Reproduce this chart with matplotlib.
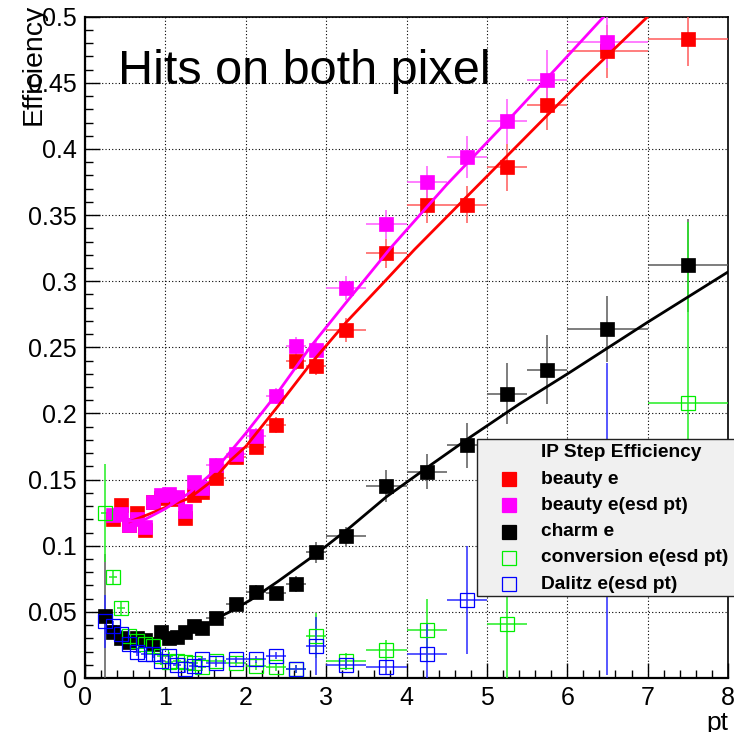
#!/usr/bin/env python3
"""IP step efficiency vs pt (hits on both pixel layers), ROOT-style canvas."""

import matplotlib

matplotlib.use("Agg")
import matplotlib.pyplot as plt
import numpy as np
from matplotlib.lines import Line2D
from matplotlib.patches import Rectangle
from matplotlib.ticker import FuncFormatter, MultipleLocator

plt.rcParams["font.family"] = ["Liberation Sans", "DejaVu Sans"]

W, H = 734, 732

# bin centres and half widths (pt)
pt_bins = [0.25, 0.35, 0.45, 0.55, 0.65, 0.75, 0.85, 0.95, 1.05, 1.15, 1.25, 1.35, 1.45,
           1.625, 1.875, 2.125, 2.375, 2.625, 2.875,
           3.25, 3.75, 4.25, 4.75, 5.25, 5.75, 6.5, 7.5]
pt_halfw = [0.05, 0.05, 0.05, 0.05, 0.05, 0.05, 0.05, 0.05, 0.05, 0.05, 0.05, 0.05, 0.05,
            0.125, 0.125, 0.125, 0.125, 0.125, 0.125,
            0.25, 0.25, 0.25, 0.25, 0.25, 0.25, 0.5, 0.5]

nan = float("nan")

beauty_eff = [nan, 0.120, 0.131, 0.116, 0.125, 0.112, 0.133, 0.136, 0.137, 0.135, 0.121, 0.138, 0.141,
              0.151, 0.167, 0.175, 0.191, 0.240, 0.236,
              0.263, 0.321, 0.358, 0.358, 0.386, 0.433, 0.474, 0.483]
beauty_err = [nan, 0.004, 0.004, 0.004, 0.004, 0.004, 0.004, 0.004, 0.004, 0.004, 0.004, 0.004, 0.004,
              0.005, 0.005, 0.006, 0.006, 0.007, 0.007,
              0.009, 0.011, 0.014, 0.014, 0.018, 0.019, 0.020, 0.020]

beauty_esd_eff = [nan, 0.123, 0.124, 0.116, 0.120, 0.114, 0.133, 0.138, 0.139, 0.137, 0.126, 0.148, 0.144,
                  0.161, 0.169, 0.183, 0.213, 0.251, 0.248,
                  0.295, 0.343, 0.375, 0.394, 0.421, 0.452, 0.481, nan]
beauty_esd_err = [nan, 0.004, 0.004, 0.004, 0.004, 0.004, 0.004, 0.004, 0.004, 0.004, 0.004, 0.004, 0.004,
                  0.005, 0.005, 0.006, 0.006, 0.007, 0.007,
                  0.009, 0.011, 0.012, 0.016, 0.017, 0.023, 0.020, nan]

charm_eff = [0.047, 0.035, 0.030, 0.027, 0.030, 0.029, 0.026, 0.035, 0.030, 0.031, 0.035, 0.039, 0.038,
             0.045, 0.056, 0.065, 0.064, 0.071, 0.095,
             0.107, 0.145, 0.156, 0.176, 0.215, 0.233, 0.264, 0.312]
charm_err = [0.047, 0.004, 0.003, 0.003, 0.003, 0.003, 0.003, 0.003, 0.003, 0.003, 0.003, 0.003, 0.003,
             0.004, 0.004, 0.005, 0.005, 0.006, 0.008,
             0.007, 0.012, 0.013, 0.017, 0.023, 0.026, 0.025, 0.035]

conv_eff = [0.125, 0.076, 0.053, 0.032, 0.028, 0.026, 0.024, 0.017, 0.012, 0.013, 0.012, 0.011, 0.008,
            0.013, 0.011, 0.009, 0.008, 0.007, 0.032,
            0.013, 0.021, 0.036, nan, 0.041, nan, nan, 0.208]
conv_err = [0.037, 0.006, 0.005, 0.004, 0.003, 0.003, 0.003, 0.003, 0.003, 0.003, 0.003, 0.003, 0.003,
            0.003, 0.003, 0.003, 0.003, 0.003, 0.017,
            0.006, 0.008, 0.024, nan, 0.045, nan, nan, 0.137]

dalitz_eff = [0.043, 0.039, 0.033, 0.026, 0.020, 0.018, 0.018, 0.013, 0.017, 0.010, 0.007, 0.009, 0.014,
              0.011, 0.014, 0.014, 0.017, 0.007, 0.024,
              0.010, 0.008, 0.018, 0.059, nan, nan, 0.120, nan]
dalitz_err = [0.020, 0.004, 0.003, 0.003, 0.003, 0.003, 0.003, 0.003, 0.003, 0.003, 0.003, 0.003, 0.003,
              0.003, 0.003, 0.003, 0.003, 0.003, 0.022,
              0.004, 0.005, 0.023, 0.041, nan, nan, 0.118, nan]

# fitted curves
beauty_fit_pt = [0.55, 0.8, 1.0, 1.3, 1.6, 1.8, 2.0, 2.4, 2.8, 3.25, 3.7, 4.1, 4.8, 5.5, 6.2, 7.0]
beauty_fit_eff = [0.118, 0.124, 0.129, 0.136, 0.150, 0.164, 0.175, 0.2055, 0.237, 0.269, 0.298, 0.324,
                  0.367, 0.410, 0.453, 0.500]
beauty_esd_fit_pt = [0.5, 0.75, 1.0, 1.3, 1.6, 2.0, 2.4, 2.8, 3.25, 3.8, 4.5, 5.3, 6.0, 6.5]
beauty_esd_fit_eff = [0.118, 0.120, 0.128, 0.140, 0.156, 0.185, 0.216, 0.250, 0.284, 0.325, 0.373, 0.424,
                      0.470, 0.503]
charm_fit_pt = [1.6, 1.8, 2.06, 2.4, 2.88, 3.3, 3.75, 4.3, 4.8, 5.4, 6.03, 7.0, 8.0]
charm_fit_eff = [0.044, 0.050, 0.059, 0.073, 0.094, 0.114, 0.137, 0.161, 0.1824, 0.207, 0.231, 0.269, 0.307]

SERIES = [
    # label, eff, err, marker colour, error colour, filled
    ("beauty e", beauty_eff, beauty_err, "#ff0000", "#ff5a5a", True),
    ("beauty e(esd pt)", beauty_esd_eff, beauty_esd_err, "#ff00ff", "#ff5aff", True),
    ("charm e", charm_eff, charm_err, "#000000", "#5a5a5a", True),
    ("conversion e(esd pt)", conv_eff, conv_err, "#00ee00", "#22ee22", False),
    ("Dalitz e(esd pt)", dalitz_eff, dalitz_err, "#0000ff", "#2a2aff", False),
]
FITS = [
    (beauty_fit_pt, beauty_fit_eff, "#ff0000"),
    (beauty_esd_fit_pt, beauty_esd_fit_eff, "#ff00ff"),
    (charm_fit_pt, charm_fit_eff, "#000000"),
]


def fx(px):
    return px / W


def fy(py):
    return 1 - py / H


fig = plt.figure(figsize=(W / 100, H / 100), dpi=100)
ax = fig.add_axes([fx(85), fy(678), (728 - 85) / W, (678 - 16.7) / H])
ax.set_xlim(0, 8)
ax.set_ylim(0, 0.5)

x = np.array(pt_bins)
xe = np.array(pt_halfw)
for k, (label, eff, err, col, ecol, filled) in enumerate(SERIES):
    e = np.array(eff)
    s = np.array(err)
    m = ~np.isnan(e)
    ax.errorbar(x[m], e[m], xerr=xe[m], yerr=s[m], fmt="none", ecolor=ecol,
                elinewidth=1.1, capsize=0, zorder=3 + k * 0.1)
    ax.plot(x[m], e[m], "s", ms=10, mec=col, mfc=col if filled else "none",
            mew=0.9 if not filled else 0.5, zorder=4 + k * 0.1)

for fpt, feff, col in FITS:
    ax.plot(fpt, feff, "-", color=col, lw=2.0, zorder=6, solid_capstyle="round")

# ROOT-like axes
ax.xaxis.set_major_locator(MultipleLocator(1))
ax.xaxis.set_minor_locator(MultipleLocator(0.2))
ax.yaxis.set_major_locator(MultipleLocator(0.05))
ax.yaxis.set_minor_locator(MultipleLocator(0.01))
ax.yaxis.set_major_formatter(FuncFormatter(lambda v, p: f"{v:g}"))
ax.tick_params(which="both", direction="in", top=False, right=False, labelsize=18, pad=6,
               width=1.0, colors="black")
ax.tick_params(which="major", length=11)
ax.tick_params(which="minor", length=5.5)
ax.grid(which="major", color="black", linestyle=(0, (1, 2)), linewidth=0.8, zorder=1)
ax.set_axisbelow(True)
for name, sp in ax.spines.items():
    sp.set_linewidth(1.6 if name in ("left", "bottom") else 1.2)

fig.text(fx(118), fy(84), "Hits on both pixel", fontsize=35, ha="left", va="baseline")
fig.text(fx(34), fy(4), "Efficiency", fontsize=20.5, rotation=90, ha="center", va="top")
fig.text(fx(728), fy(730), "pt", fontsize=19, ha="right", va="baseline")

# legend box drawn the way ROOT's TLegend looks
fig.add_artist(Rectangle((fx(476.7), fy(595.7)), (745 - 476.7) / W, (595.7 - 439.3) / H,
                         transform=fig.transFigure, facecolor="#f0f0f0", edgecolor="#222222",
                         linewidth=1.0, zorder=10))
row0, drow = 452.7, 26.3
fig.text(fx(540.7), fy(row0), "IP Step Efficiency", fontsize=13.8, fontweight="bold",
         ha="left", va="center", zorder=11)
for i, (label, _, _, col, _, filled) in enumerate(SERIES, start=1):
    yy = fy(row0 + i * drow)
    fig.add_artist(Line2D([fx(509)], [yy], marker="s", ms=10.5, mec=col,
                          mfc=col if filled else "none", mew=0.9, linestyle="none",
                          transform=fig.transFigure, zorder=11))
    fig.text(fx(540.7), yy, label, fontsize=13.8, fontweight="bold", ha="left", va="center",
             zorder=11)

fig.savefig("out.png", dpi=100)
